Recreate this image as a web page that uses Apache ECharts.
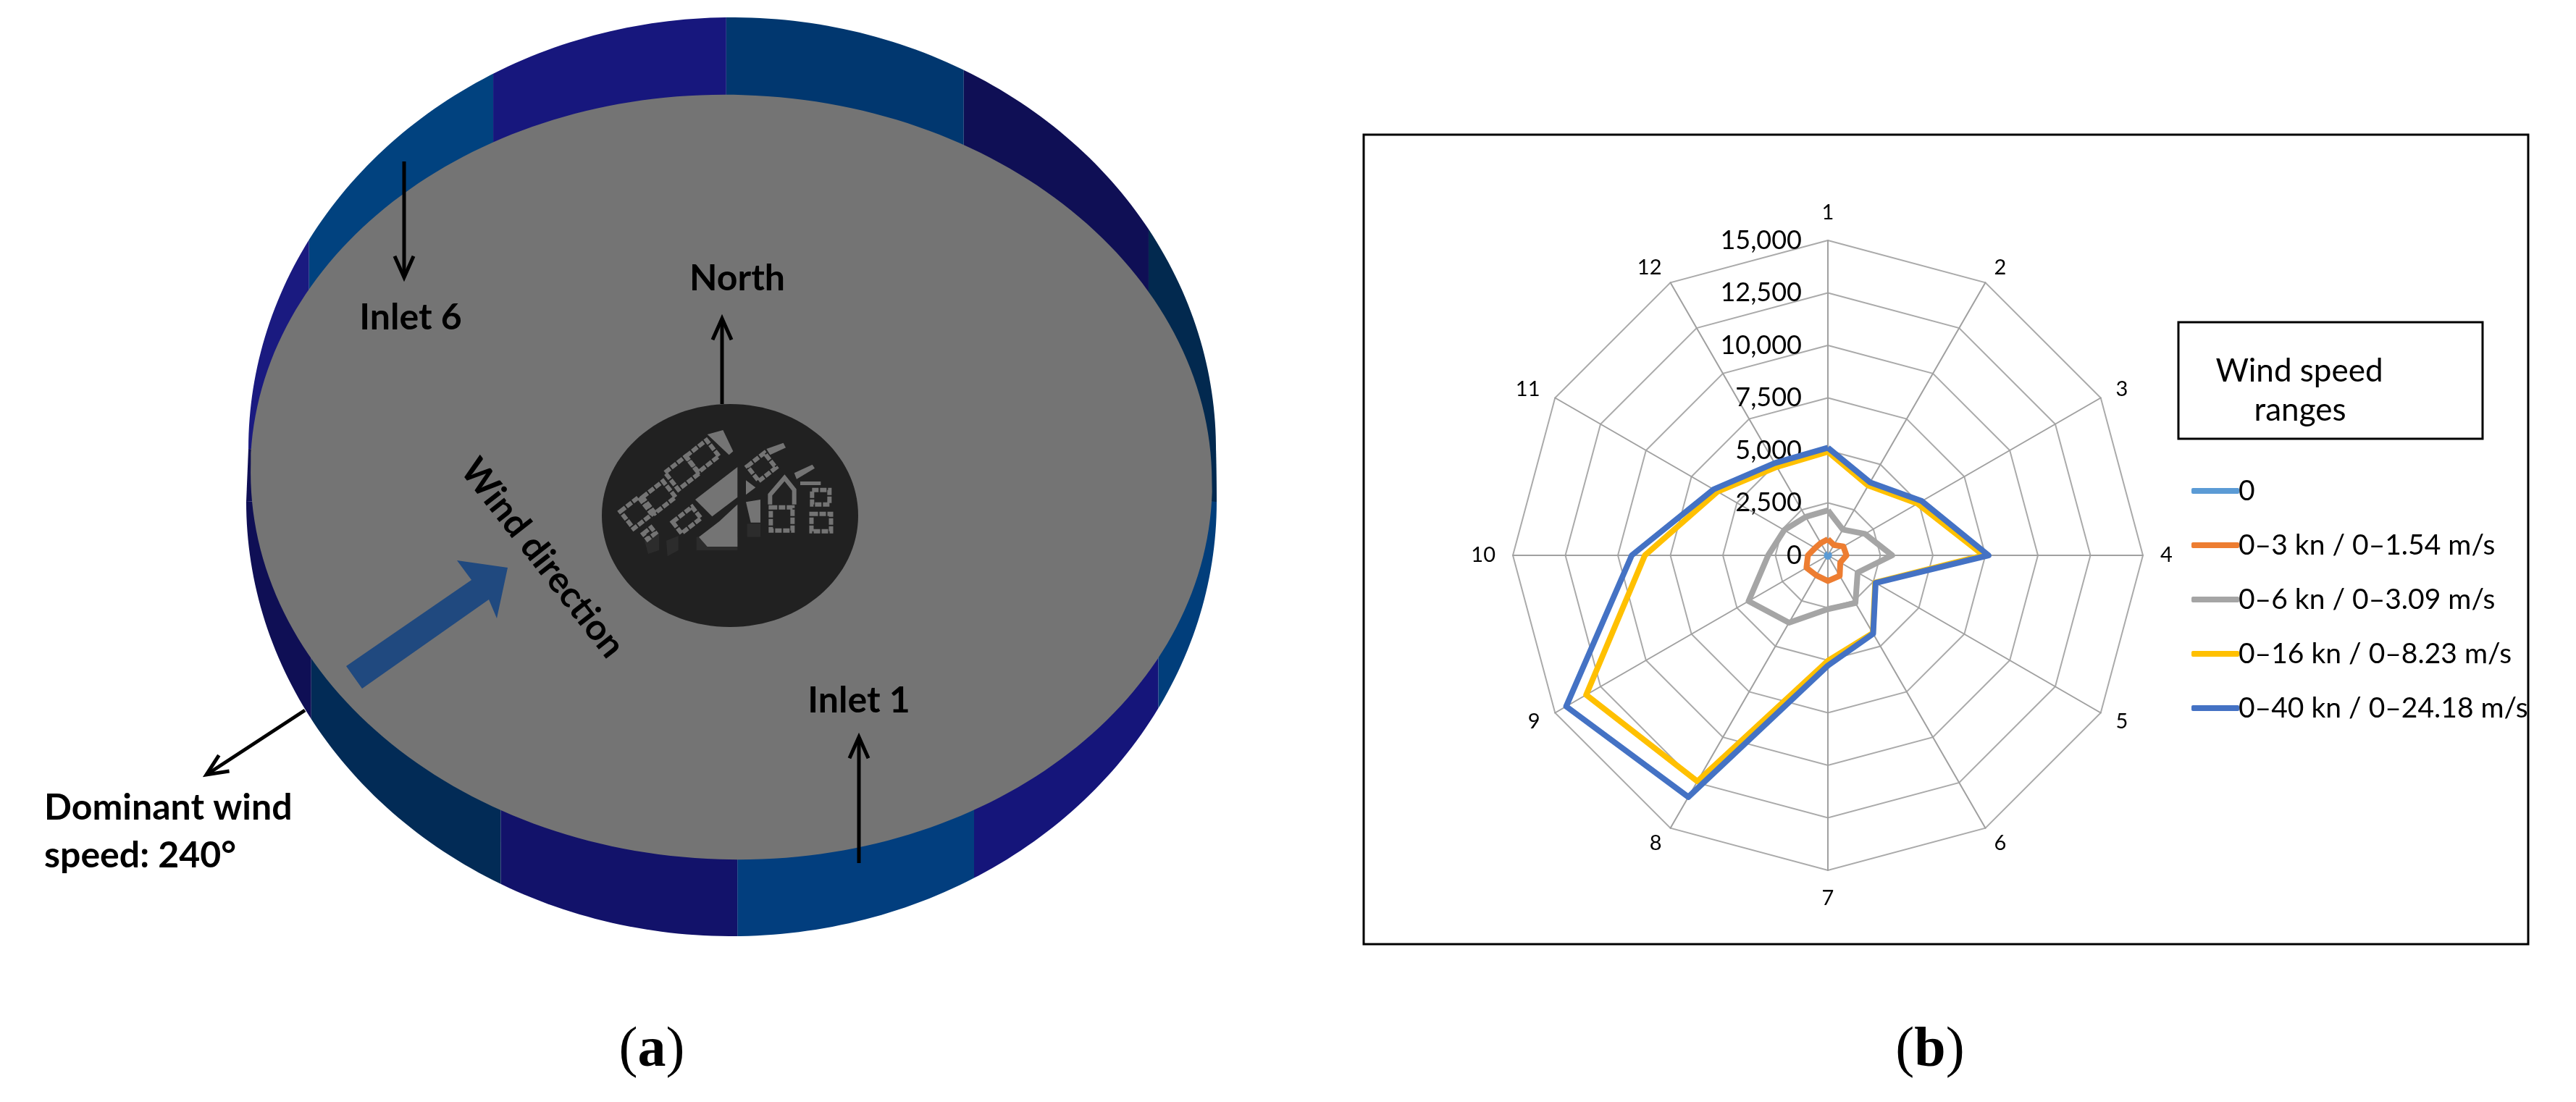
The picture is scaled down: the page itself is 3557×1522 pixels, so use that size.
<!DOCTYPE html>
<html>
<head>
<meta charset="utf-8">
<style>html,body{margin:0;background:#fff}#main{width:3557px;height:1522px}</style>
<script src="https://cdn.jsdelivr.net/npm/echarts@6/dist/echarts.min.js"></script>
</head>
<body>
<div id="main"></div>
<script>
const directions = ['1','2','3','4','5','6','7','8','9','10','11','12'];
const maxValue = 15000;
const seriesNames = ['0','0–3 kn / 0–1.54 m/s','0–6 kn / 0–3.09 m/s','0–16 kn / 0–8.23 m/s','0–40 kn / 0–24.18 m/s'];
const seriesColors = ['#5b9bd5','#ed7d31','#a5a5a5','#ffc000','#4472c4'];
const zeroRange = [60,50,60,60,50,60,70,60,60,50,50,60];
const range3 = [770,570,850,885,680,1125,1220,1100,1180,950,700,680];
const range6 = [2145,1420,2040,3060,1635,2620,2560,3705,4360,2845,2400,2115];
const range16 = [4930,3840,4930,7420,2600,4280,5025,12430,13290,8715,6070,4865];
const range40 = [5126,4014,5165,7650,2625,4310,5250,13290,14390,9340,6285,5070];

const chartFont = 'Lato';
let graphics = [];

// radar runs counter clockwise, the picture runs clockwise from 1
function clockwiseOrder(list) {
  return [list[0]].concat(list.slice(1).reverse());
}

// outer silhouette of the cylinder, angle in degrees, 0 = right, clockwise
function rimPoint(deg) {
  const t = deg * Math.PI / 180;
  const s = Math.sin(t);
  return s < 0
    ? [1011 + 668 * Math.cos(t), 620 + 596 * s]
    : [1010 + 670 * Math.cos(t), 693 + 600 * s];
}
function rimBand(a1, a2, color) {
  let pts = [];
  for (let a = a1; a < a2; a += 1) pts.push(rimPoint(a));
  pts.push(rimPoint(a2));
  const last = pts[pts.length - 1], first = pts[0];
  const inward = a => (Math.abs(a) === 180 || a === 0 ? 0 : (a < 0 ? 130 : -130));
  pts.push([last[0], last[1] + inward(a2)]);
  pts.push([1010, 659]);
  pts.push([first[0], first[1] + inward(a1)]);
  graphics.push({type:'polygon', silent:true, z:1, shape:{points:pts}, style:{fill:color}});
}
const rimBands = [
  [-180,-151,'#1a1a80'],[-151,-119.6,'#01427f'],[-119.6,-90.7,'#17177d'],[-90.7,-61.4,'#01376f'],
  [-61.4,-30.6,'#0f0f55'],[-30.6,0,'#02294f'],[0,28.4,'#013e7b'],[28.4,60,'#15157a'],
  [60,89.3,'#023e7e'],[89.3,118.4,'#12126a'],[118.4,150,'#022b56'],[150,180,'#0f0f55']
];
rimBands.forEach(b => rimBand(b[0], b[1], b[2]));
// straight sides between the upper and lower outline
graphics.push({type:'polygon', silent:true, z:1, shape:{points:[[343,620],[340,693],[1010,659]]}, style:{fill:'#0f0f55'}});
graphics.push({type:'polygon', silent:true, z:1, shape:{points:[[1679,620],[1680,693],[1010,659]]}, style:{fill:'#02294f'}});

graphics.push({type:'ellipse', silent:true, z:2, origin:[1010,659], rotation:-0.03,
  shape:{cx:1010, cy:659, rx:664, ry:528}, style:{fill:'#747474'}});
graphics.push({type:'ellipse', silent:true, z:3, shape:{cx:1008, cy:712, rx:177, ry:154}, style:{fill:'#212121'}});

// little city in the dark disc, coordinates from the zoomed crop
function cityX(x) { return 780 + x / 3; }
function cityY(y) { return 520 + y / 3; }
function cityPoly(list, fill) {
  graphics.push({type:'polygon', silent:true, z:4,
    shape:{points:list.map(p => [cityX(p[0]), cityY(p[1])])}, style:{fill:fill}});
}
function cityRect(cx, cy, w, h, deg) {
  const x = cityX(cx), y = cityY(cy);
  graphics.push({type:'rect', silent:true, z:5, origin:[x,y], rotation:deg*Math.PI/180,
    shape:{x:x-w/2, y:y-h/2, width:w, height:h},
    style:{fill:'none', stroke:'#747474', lineWidth:6, lineDash:[9,2]}});
}
cityPoly([[330,680],[390,650],[390,720],[345,735]], '#2c2c2c');
cityPoly([[420,680],[470,660],[470,720],[425,745]], '#2c2c2c');
cityPoly([[545,665],[715,665],[715,720],[545,720]], '#2c2c2c');
cityPoly([[755,610],[810,610],[810,665],[755,665]], '#2c2c2c');
cityPoly([[590,240],[655,222],[697,310],[680,325]], '#747474');
cityPoly([[540,510],[715,375],[715,500],[610,580]], '#747474');
cityPoly([[555,665],[640,600],[715,530],[715,705],[590,705]], '#747474');
cityPoly([[750,520],[810,510],[810,605],[770,605]], '#747474');
cityPoly([[750,430],[790,460],[750,490]], '#747474');
cityRect(295,565,32,30,38);
cityRect(390,500,36,28,38);
cityRect(485,400,36,30,38);
cityRect(570,330,36,28,38);
cityRect(505,595,34,20,38);
cityRect(350,650,14,10,38);
cityRect(815,375,30,26,38);
cityRect(898,590,30,32,0);
cityRect(1060,500,24,20,0);
cityRect(1062,605,27,24,0);
cityPoly([[835,300],[905,275],[915,295],[850,325]], '#747474');
cityPoly([[950,400],[1025,365],[1035,380],[960,425]], '#747474');
cityPoly([[975,435],[1060,435],[1060,450],[975,450]], '#747474');
graphics.push({type:'polyline', silent:true, z:5,
  shape:{points:[[850,530],[850,490],[910,420],[950,470],[950,530]].map(p => [cityX(p[0]), cityY(p[1])])},
  style:{fill:'none', stroke:'#747474', lineWidth:6}});

// arrows
function arrow(x1, y1, x2, y2) {
  const a = Math.atan2(y2 - y1, x2 - x1), h = 32, sp = 0.42;
  graphics.push({type:'line', silent:true, z:6, shape:{x1:x1, y1:y1, x2:x2, y2:y2},
    style:{stroke:'#000', lineWidth:5}});
  graphics.push({type:'polyline', silent:true, z:6,
    shape:{points:[[x2-h*Math.cos(a-sp), y2-h*Math.sin(a-sp)],[x2,y2],[x2-h*Math.cos(a+sp), y2-h*Math.sin(a+sp)]]},
    style:{fill:'none', stroke:'#000', lineWidth:5}});
}
arrow(997,558,997,440);
arrow(558,223,558,383);
arrow(1186,1192,1186,1018);
arrow(421,981,285,1070);
graphics.push({type:'polygon', silent:true, z:6,
  shape:{points:[[478,920],[651,801],[631,774],[701,784],[686,854],[675,828],[500,951]]},
  style:{fill:'#20497f'}});

function label(text, x, y, opts) {
  graphics.push(Object.assign({type:'text', silent:true, z:7, x:x, y:y,
    style:Object.assign({text:text, fill:'#000', font:'bold 50px Lato', align:'center', verticalAlign:'middle'}, (opts||{}).style)},
    (opts||{}).el));
}
label('North', 1018, 385);
label('Inlet 6', 567, 439);
label('Inlet 1', 1186, 968);
label('Dominant wind', 61, 1116, {style:{align:'left'}});
label('speed: 240°', 61, 1182, {style:{align:'left'}});
label('Wind direction', 749, 771, {el:{rotation:-52*Math.PI/180}});

// figure captions, regular brackets round a bold letter
const captionRich = {
  p: {font:'78px "Liberation Serif"', fill:'#000'},
  l: {font:'bold 78px "Liberation Serif"', fill:'#000'}
};
label('{p|(}{l|a}{p|)}', 900, 1452, {style:{rich:captionRich}});
label('{p|(}{l|b}{p|)}', 2665, 1452, {style:{rich:captionRich}});

// right panel frame and legend title box
graphics.push({type:'rect', silent:true, z:0, shape:{x:1883, y:186, width:1608, height:1118},
  style:{fill:'#fff', stroke:'#000', lineWidth:3}});
graphics.push({type:'rect', silent:true, z:7, shape:{x:3008, y:445, width:420, height:161},
  style:{fill:'#fff', stroke:'#000', lineWidth:3}});
label('Wind speed', 3175, 513, {style:{font:'44px Lato'}});
label('ranges', 3176, 567, {style:{font:'44px Lato'}});

const seriesValues = [zeroRange, range3, range6, range16, range40];

const myChart = echarts.init(document.getElementById('main'), null, {renderer:'canvas'});
const option = {
  animation: false,
  backgroundColor: '#fff',
  textStyle: {fontFamily: chartFont},
  graphic: {elements: graphics},
  legend: {
    left: 3021,
    top: 648,
    orient: 'vertical',
    align: 'left',
    icon: 'roundRect',
    itemWidth: 66,
    itemHeight: 8,
    itemGap: 25,
    selectedMode: false,
    textStyle: {fontFamily: chartFont, fontSize: 39, color: '#000', padding: [0,0,0,-6], lineHeight: 50},
    data: seriesNames
  },
  radar: {
    center: [2524, 767],
    radius: 435,
    startAngle: 90,
    splitNumber: 6,
    shape: 'polygon',
    nameGap: 24,
    axisName: {color: '#000', fontFamily: chartFont, fontSize: 29},
    axisLine: {show: true, lineStyle: {color: '#a0a0a0', width: 2}},
    axisTick: {show: false},
    axisLabel: {show: false},
    splitLine: {lineStyle: {color: '#aaaaaa', width: 2}},
    splitArea: {show: false},
    indicator: clockwiseOrder(directions).map((d, i) => {
      let ind = {name: d, min: 0, max: maxValue};
      if (i === 0) {
        ind.axisLabel = {show: true, color: '#000', fontFamily: chartFont, fontSize: 36, margin: 36,
          formatter: v => v.toLocaleString('en-US')};
      }
      return ind;
    })
  },
  series: seriesNames.map((n, i) => ({
    name: n,
    type: 'radar',
    symbol: 'none',
    itemStyle: {color: seriesColors[i]},
    lineStyle: {color: seriesColors[i], width: 8, join: 'round'},
    data: [{name: n, value: clockwiseOrder(seriesValues[i])}]
  }))
};
myChart.setOption(option);
</script>
</body>
</html>
